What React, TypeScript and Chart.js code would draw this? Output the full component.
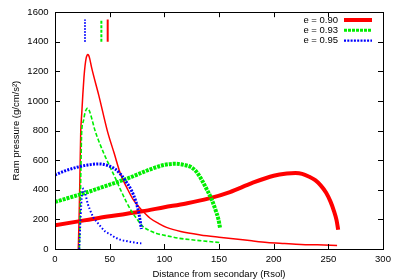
import React, { useEffect, useRef } from "react";
import { Chart, registerables } from "chart.js";

Chart.register(...registerables);

// ---------- data ----------
const X_TICKS = [0, 50, 100, 150, 200, 250, 300];
const Y_TICKS = [0, 200, 400, 600, 800, 1000, 1200, 1400, 1600];

const legendLabels = ["e = 0.90", "e = 0.93", "e = 0.95"];

// e = 0.90
const redThickX = [0, 20, 40, 60, 80, 100, 120, 140, 160, 180, 200, 212, 220, 226, 232, 238, 243, 248, 252, 255, 257.5, 259];
const redThickY = [160, 185, 210, 232, 255, 282, 308, 340, 385, 445, 495, 510, 513, 508, 490, 465, 430, 380, 320, 260, 195, 130];
const redThinX = [21.3, 22, 22.7, 23.5, 24.5, 25.5, 26.5, 27.5, 28.5, 29.3, 30, 30.8, 31.8, 33.5, 40, 48, 54, 60, 66, 72, 80, 87, 95, 102, 115, 133, 150, 163, 180, 194, 210, 225, 240, 258];
const redThinY = [0, 200, 450, 780, 920, 1050, 1160, 1240, 1290, 1308, 1315, 1308, 1285, 1225, 1040, 795, 650, 505, 410, 328, 258, 208, 172, 146, 118, 95, 80, 70, 55, 44, 37, 31, 28, 24];
const redMarkX = [48.2, 48.2];

// e = 0.93
const greenThickX = [0, 10, 20, 30, 40, 50, 60, 70, 80, 90, 100, 110, 118, 124, 129, 134, 139, 143, 147, 149.5, 151];
const greenThickY = [318, 340, 362, 385, 410, 435, 460, 487, 518, 546, 568, 576, 568, 555, 525, 470, 400, 340, 260, 200, 140];
const greenThinX = [22.3, 23, 23.7, 24.4, 25.9, 27.5, 28.8, 29.6, 30.5, 31.5, 33.5, 36.6, 40, 45, 50, 55, 60, 65, 70, 75, 80, 86, 93, 103, 114, 125, 136, 151];
const greenThinY = [0, 250, 550, 790, 862, 922, 945, 950, 946, 932, 885, 800, 730, 640, 560, 482, 400, 322, 255, 202, 155, 126, 105, 88, 72, 62, 54, 43];
const greenMarkX = [42.4, 42.4];

// e = 0.95
const blueThickX = [0, 10, 20, 30, 40, 48, 55, 60, 65, 70, 74, 77, 79];
const blueThickY = [500, 530, 552, 568, 575, 565, 540, 505, 455, 395, 320, 230, 135];
const blueThinX = [22.2, 23, 24, 25, 26, 27, 28, 30, 32, 35, 38, 42, 46, 50, 55, 60, 65, 70, 75, 79];
const blueThinY = [0, 150, 300, 385, 408, 395, 365, 305, 265, 215, 185, 150, 118, 102, 78, 62, 54, 47, 41, 38];
const blueMarkX = [27.4, 27.4];

const markY = [1400, 1550];

const FONT_FAMILY = "'Liberation Sans', Arial, Helvetica, sans-serif";
const FONT_SIZE = 9.5;

const RED = "#ff0000";
const GREEN = "#00ee00";
const BLUE = "#0000ff";

function pts(xs: number[], ys: number[]) {
  return xs.map((x, i) => ({ x, y: ys[i] }));
}

type Style = { color: string; width: number; dash: number[] };

const legendStyles: Style[] = [
  { color: RED, width: 4, dash: [] },
  { color: GREEN, width: 3, dash: [3, 1] },
  { color: BLUE, width: 2.2, dash: [2, 1.3] },
];

const framePlugin = {
  id: "frameAndLegend",
  afterDatasetsDraw(chart: any) {
    const { ctx, chartArea, scales } = chart;
    const { left, right, top, bottom } = chartArea;
    const x = scales.x;
    const y = scales.y;
    ctx.save();
    ctx.strokeStyle = "#000";
    ctx.lineWidth = 1;
    ctx.setLineDash([]);
    ctx.beginPath();
    const tl = 5;
    for (const t of X_TICKS) {
      const px = Math.round(x.getPixelForValue(t)) + 0.5;
      ctx.moveTo(px, bottom);
      ctx.lineTo(px, bottom - tl);
      ctx.moveTo(px, top);
      ctx.lineTo(px, top + tl);
    }
    for (const t of Y_TICKS) {
      const py = Math.round(y.getPixelForValue(t)) + 0.5;
      ctx.moveTo(left, py);
      ctx.lineTo(left + tl, py);
      ctx.moveTo(right, py);
      ctx.lineTo(right - tl, py);
    }
    ctx.stroke();
    ctx.strokeRect(Math.round(left) + 0.5, Math.round(top) + 0.5, Math.round(right - left), Math.round(bottom - top));

    // legend
    ctx.font = `${FONT_SIZE}px ${FONT_FAMILY}`;
    ctx.fillStyle = "#000";
    ctx.textAlign = "right";
    ctx.textBaseline = "middle";
    const rowY = [20, 30.3, 40.6];
    legendLabels.forEach((label, i) => {
      ctx.fillText(label, 338, rowY[i]);
      const st = legendStyles[i];
      ctx.strokeStyle = st.color;
      ctx.lineWidth = st.width;
      ctx.setLineDash(st.dash);
      ctx.beginPath();
      ctx.moveTo(344, rowY[i]);
      ctx.lineTo(372, rowY[i]);
      ctx.stroke();
    });
    ctx.restore();
  },
};

export default function App() {
  const canvasRef = useRef<HTMLCanvasElement | null>(null);

  useEffect(() => {
    if (!canvasRef.current) return;
    Chart.defaults.font.family = FONT_FAMILY;
    Chart.defaults.font.size = FONT_SIZE;
    Chart.defaults.color = "#000";

    const line = (data: { x: number; y: number }[], color: string, width: number, dash: number[], smooth = true) => ({
      data,
      borderColor: color,
      backgroundColor: color,
      borderWidth: width,
      borderDash: dash,
      pointRadius: 0,
      pointHoverRadius: 0,
      fill: false,
      cubicInterpolationMode: smooth ? "monotone" : "default",
      tension: 0,
    });

    const sets = [
      line(pts(redThickX, redThickY), RED, 4, []),
      line(pts(redThinX, redThinY), RED, 1.5, []),
      line(pts(redMarkX, markY), RED, 2, [], false),
      line(pts(greenThickX, greenThickY), GREEN, 4, [3, 1]),
      line(pts(greenThinX, greenThinY), GREEN, 1.6, [4, 2]),
      line(pts(greenMarkX, markY), GREEN, 2, [3, 1.5], false),
      line(pts(blueThickX, blueThickY), BLUE, 3, [2, 1.3]),
      line(pts(blueThinX, blueThinY), BLUE, 2, [1.5, 2]),
      line(pts(blueMarkX, markY), BLUE, 2, [1.5, 1.5], false),
    ].map((d, i, arr) => ({ ...d, order: arr.length - i }));

    const chart = new Chart(canvasRef.current, {
      type: "line",
      data: { datasets: sets as any },
      options: {
        responsive: false,
        animation: false,
        events: [],
        layout: { padding: { left: 0, right: 17, top: 11, bottom: 0 } },
        plugins: {
          legend: { display: false },
          tooltip: { enabled: false },
        },
        scales: {
          x: {
            type: "linear",
            min: 0,
            max: 300,
            grid: { display: false, drawTicks: false },
            border: { display: false },
            ticks: {
              stepSize: 50,
              padding: 5,
              color: "#000",
              font: { size: FONT_SIZE, family: FONT_FAMILY },
              maxRotation: 0,
              callback: (v: any) => String(v),
            },
            title: {
              display: true,
              text: "Distance from secondary (Rsol)",
              color: "#000",
              font: { size: FONT_SIZE, family: FONT_FAMILY },
              padding: { top: 0, bottom: -1 },
            },
            afterFit: (s: any) => {
              s.height = 30;
            },
          },
          y: {
            type: "linear",
            min: 0,
            max: 1600,
            grid: { display: false, drawTicks: false },
            border: { display: false },
            ticks: {
              stepSize: 200,
              padding: 6.5,
              color: "#000",
              font: { size: FONT_SIZE, family: FONT_FAMILY },
              callback: (v: any) => String(v),
            },
            title: {
              display: true,
              text: "Ram pressure (g/cm/s²)",
              color: "#000",
              font: { size: FONT_SIZE, family: FONT_FAMILY },
              padding: { top: 10.4, bottom: 0 },
            },
            afterFit: (s: any) => {
              s.width = 55;
            },
          },
        },
      },
      plugins: [framePlugin],
    });
    return () => chart.destroy();
  }, []);

  return (
    <div style={{ position: "fixed", left: 0, top: 0, width: 400, height: 279, background: "#fff" }}>
      <canvas ref={canvasRef} width={400} height={279} style={{ display: "block", width: 400, height: 279 }} />
    </div>
  );
}
